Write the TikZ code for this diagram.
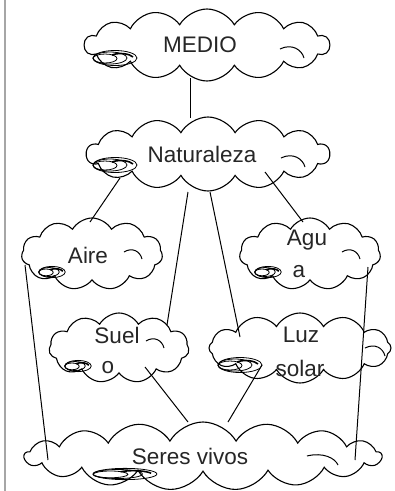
\documentclass[tikz,border=0pt]{standalone}
\usepackage{fontspec}
\setmainfont{Liberation Sans}
\usetikzlibrary{shapes.symbols,calc}
\begin{document}
\begin{tikzpicture}[x=1pt,y=-1pt,
  cloudbox/.style={draw=black,line width=1.1pt,cloud,cloud puffs=#1,cloud puff arc=120,inner sep=0pt},
  label/.style={inner sep=0pt,text=black!85,font=\fontsize{22.5}{26}\selectfont},
  link/.style={draw=black,line width=1pt},
  swirlline/.style={draw=black,line width=0.8pt}]
\useasboundingbox (0,0) rectangle (395,491);
\fill[white] (0,0) rectangle (395,491);
\draw[gray!70,line width=2pt] (5,0) -- (5,491);
% clouds
\node[cloudbox=14,minimum width=245pt,minimum height=72pt] (med) at (207,45) {};
\node[cloudbox=14,minimum width=243pt,minimum height=74pt] (nat) at (208,154) {};
\node[cloudbox=11,minimum width=141pt,minimum height=72pt] (aire) at (92,254) {};
\node[cloudbox=11,minimum width=141pt,minimum height=72pt] (agua) at (310,254) {};
\node[cloudbox=11,minimum width=140pt,minimum height=70pt] (suelo) at (119,348) {};
\node[cloudbox=12,minimum width=182pt,minimum height=70pt] (luz) at (300,348) {};
\node[cloudbox=17,minimum width=357pt,minimum height=68pt] (seres) at (203,456) {};
% texts
\node[label] (tmed) at (200,45) {MEDIO};
\node[label] (tnat) at (202,154) {Naturaleza};
\node[label] (taire) at (88,255) {Aire};
\node[label] (tagua1) at (307,240) {Agu};
\node[label] (tagua2) at (299,272) {a};
\node[label] (tsuelo1) at (117,335) {Suel};
\node[label] (tsuelo2) at (108,368) {o};
\node[label] (tluz1) at (301,335) {Luz};
\node[label] (tluz2) at (300,368) {solar};
\node[label] (tseres) at (190,456) {Seres vivos};
% inner arcs
\draw[swirlline,line width=1pt] ($(med.center)+(73,4)$) .. controls ($(med.center)+(85,-2)$) and ($(med.center)+(95,5)$) .. ($(med.center)+(97,13)$);
\draw[swirlline,line width=1pt] ($(nat.center)+(73,4)$) .. controls ($(nat.center)+(85,-2)$) and ($(nat.center)+(95,5)$) .. ($(nat.center)+(97,13)$);
\draw[swirlline,line width=1pt] ($(aire.center)+(32,-2)$) .. controls ($(aire.center)+(40,-7)$) and ($(aire.center)+(48,-3)$) .. ($(aire.center)+(50,5)$);
\draw[swirlline,line width=1pt] ($(agua.center)+(32,-2)$) .. controls ($(agua.center)+(40,-7)$) and ($(agua.center)+(48,-3)$) .. ($(agua.center)+(50,5)$);
\draw[swirlline,line width=1pt] ($(suelo.center)+(27,-7)$) .. controls ($(suelo.center)+(35,-12)$) and ($(suelo.center)+(43,-8)$) .. ($(suelo.center)+(45,0)$);
\draw[swirlline,line width=1pt] ($(luz.center)+(65,0)$) .. controls ($(luz.center)+(75,-5)$) and ($(luz.center)+(83,0)$) .. ($(luz.center)+(85,8)$);
\draw[swirlline,line width=1pt] ($(seres.center)+(104,0)$) .. controls ($(seres.center)+(120,-4)$) and ($(seres.center)+(132,2)$) .. ($(seres.center)+(135,9)$);
% swirls (spiral marks)
\foreach \px/\py/\sx/\sy in {115/58/1/1, 115/165/1/1, 52/272/0.6/0.75, 268/272/0.6/0.75, 78/366/0.6/0.75, 240/365/1/1, 125/474/1.45/0.75}{
  \begin{scope}[shift={(\px,\py)},xscale=\sx,yscale=\sy]
  \draw[swirlline] (0,0) ellipse [x radius=22,y radius=7.5];
  \draw[swirlline] (-5,0) ellipse [x radius=17,y radius=6];
  \draw[swirlline] (-10,0.5) ellipse [x radius=12,y radius=4.5];
  \draw[swirlline,line width=1.6pt] (-3,-3) .. controls (5,-6) and (15,-4) .. (18,-1);
  \end{scope}
}
% connectors
\draw[link] ($(med.center)+(-17,33)$) -- ($(nat.center)+(-18,-36)$);
\draw[link] ($(nat.center)+(-88,24)$) -- ($(aire.center)+(-2,-32)$);
\draw[link] ($(nat.center)+(-20,38)$) -- ($(suelo.center)+(48,-23)$);
\draw[link] ($(nat.center)+(2,38)$) -- ($(luz.center)+(-60,-11)$);
\draw[link] ($(nat.center)+(57,18)$) -- ($(agua.center)+(-7,-32)$);
\draw[link] ($(aire.center)+(-67,11)$) -- ($(seres.center)+(-155,4)$);
\draw[link] ($(agua.center)+(58,13)$) -- ($(seres.center)+(152,4)$);
\draw[link] ($(suelo.center)+(26,19)$) -- ($(seres.center)+(-15,-34)$);
\draw[link] ($(luz.center)+(-38,17)$) -- ($(seres.center)+(25,-34)$);
\end{tikzpicture}
\end{document}
